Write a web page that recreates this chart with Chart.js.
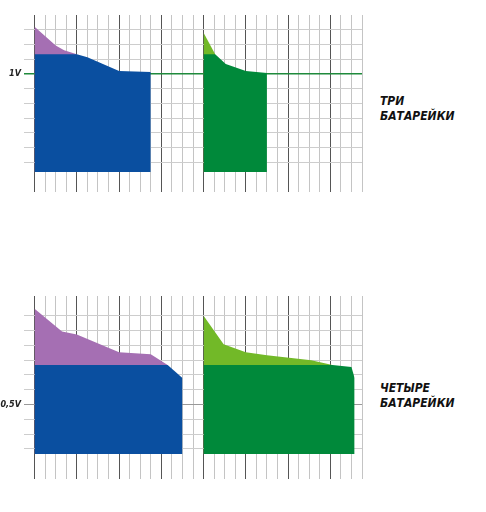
<!DOCTYPE html>
<html><head><meta charset="utf-8">
<script src="https://cdn.jsdelivr.net/npm/chart.js@4"></script>
<style>
body{margin:0;background:#fff;width:486px;height:512px;position:relative;overflow:hidden}
.box{position:absolute;left:0;width:370px}
.lbl{position:absolute;left:380px;font:italic bold 12px 'Liberation Sans Narrow','DejaVu Sans Condensed',sans-serif;line-height:15px;color:#111}
</style></head><body>
<div class="box" style="top:0;height:200px"><canvas id="top"></canvas></div>
<div class="box" style="top:281px;height:206px"><canvas id="bottom"></canvas></div>
<div class="lbl" style="top:94px">ТРИ<br>БАТАРЕЙКИ</div>
<div class="lbl" style="top:381px">ЧЕТЫРЕ<br>БАТАРЕЙКИ</div>
<script>
// three batteries
var top3PurpleX = [0, 2, 2.8, 4];
var top3PurpleY = [1.48, 1.29, 1.24, 1.2];
var top3BlueX = [0, 4, 5, 8, 11];
var top3BlueY = [1.2, 1.2, 1.17, 1.03, 1.02];
var top3LimeX = [16, 17.1];
var top3LimeY = [1.42, 1.2];
var top3GreenX = [16, 17.1, 18.1, 20, 22];
var top3GreenY = [1.2, 1.2, 1.10, 1.03, 1.01];
// four batteries
var four4PurpleX = [0, 2.6, 4, 8, 11, 12.6];
var four4PurpleY = [1.47, 1.24, 1.21, 1.03, 1.01, 0.9];
var four4BlueX = [0, 12.6, 14];
var four4BlueY = [0.9, 0.9, 0.77];
var four4LimeX = [16, 17.9, 20, 22, 26.2, 28.2];
var four4LimeY = [1.40, 1.11, 1.03, 1.0, 0.95, 0.9];
var four4GreenX = [16, 28.2, 30, 30.3];
var four4GreenY = [0.9, 0.9, 0.88, 0.77];
var yLabels = {0: '0V', 50: '0,5V', 100: '1V', 150: '1,5V'};

function pts(xs, ys) {
    return xs.map(function (x, i) { return {x: x, y: ys[i]}; });
}

function ds(xs, ys, color, order) {
    return {data: pts(xs, ys), backgroundColor: color, borderWidth: 0, pointRadius: 0,
        fill: 'origin', tension: 0, order: order};
}

function drawPanel(id, hiClip, yMin, sets) {
    new Chart(document.getElementById(id), {
        type: 'line',
        data: {datasets: sets},
        options: {
            responsive: true, maintainAspectRatio: false, animation: false,
            layout: {padding: {top: 15, bottom: 1, right: 8}},
            plugins: {legend: {display: false}, tooltip: {enabled: false}},
            scales: {
                x: {type: 'linear', min: -1, max: 31,
                    afterFit: function (s) { s.height = 0; },
                    border: {display: false},
                    ticks: {display: false, stepSize: 1},
                    grid: {tickLength: 0, lineWidth: 1, color: function (c) {
                        var v = Math.round(c.tick.value);
                        if (v < 0) return 'rgba(0,0,0,0)';
                        return v % 4 === 0 ? '#555' : '#c4c4c4';
                    }}},
                y: {min: yMin, max: 1.6,
                    afterFit: function (s) { s.width = 24; },
                    border: {display: false},
                    afterBuildTicks: function (s) {
                        var t = [];
                        for (var k = Math.round(yMin * 100); k <= 160; k += 5) t.push({value: k / 100});
                        s.ticks = t;
                    },
                    ticks: {padding: 3, color: '#222',
                        font: {family: "'Liberation Sans Narrow','DejaVu Sans Condensed',sans-serif", size: 9, style: 'italic', weight: 'bold'},
                        callback: function (v) { var l = yLabels[Math.round(v * 100)]; return l === undefined ? '' : l; }},
                    grid: {tickLength: 0, lineWidth: function (c) {
                        var v = Math.round(c.tick.value * 100);
                        return (v === 120 || v === 100 || v === 90 || v === 75) ? 1.6 : 1;
                    }, color: function (c) {
                        var v = Math.round(c.tick.value * 100);
                        if (v < 0 || v > 150) return 'rgba(0,0,0,0)';
                        if (v === 120 || v === 100) return '#1f8a3c';
                        if (v === 90 || v === 75) return '#e0288c';
                        if (v === 0 || v === 150) return '#444';
                        if (v === 50) return '#999';
                        return '#cdcdcd';
                    }}}
            }
        }
    });
}

drawPanel('top', 1.2, -0.2, [
    ds(top3PurpleX, top3PurpleY, '#a56fb3', 2),
    ds(top3BlueX, top3BlueY, '#0a4fa0', 1),
    ds(top3LimeX, top3LimeY, '#72b928', 2),
    ds(top3GreenX, top3GreenY, '#00893a', 1)
]);
drawPanel('bottom', 0.9, -0.25, [
    ds(four4PurpleX, four4PurpleY, '#a56fb3', 2),
    ds(four4BlueX, four4BlueY, '#0a4fa0', 1),
    ds(four4LimeX, four4LimeY, '#72b928', 2),
    ds(four4GreenX, four4GreenY, '#00893a', 1)
]);
</script>
</body></html>
